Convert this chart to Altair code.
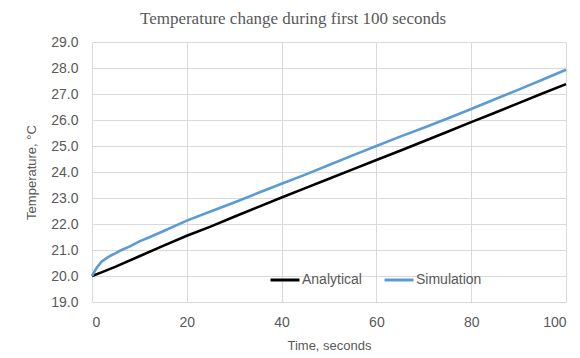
import altair as alt
import pandas as pd

t_analytical = [0, 2, 5, 10, 15, 20, 25, 30, 35, 40, 45, 50, 55, 60, 65, 70, 75, 80, 85, 90, 95, 100]
v_analytical = [20.0, 20.14, 20.36, 20.76, 21.16, 21.55, 21.9, 22.28, 22.65, 23.02, 23.38, 23.74, 24.1,
                24.46, 24.82, 25.18, 25.55, 25.92, 26.28, 26.65, 27.02, 27.38]

t_simulation = [0, 1, 2, 3, 4, 5, 6, 8, 10, 12, 15, 20, 25, 30, 35, 40, 45, 50, 55, 60, 65, 70, 75, 80,
                85, 90, 95, 100]
v_simulation = [20.0, 20.32, 20.55, 20.68, 20.79, 20.88, 20.98, 21.14, 21.33, 21.48, 21.72, 22.13, 22.48,
                22.83, 23.19, 23.55, 23.9, 24.27, 24.64, 25.0, 25.36, 25.7, 26.06, 26.42, 26.8, 27.17,
                27.55, 27.93]

series_names = ["Analytical", "Simulation"]
series_colors = ["#000000", "#5B9BD5"]
y_ticks = [19, 20, 21, 22, 23, 24, 25, 26, 27, 28, 29]
x_ticks = [0, 20, 40, 60, 80, 100]

df = pd.concat([
    pd.DataFrame({"t": t_analytical, "v": v_analytical, "series": series_names[0]}),
    pd.DataFrame({"t": t_simulation, "v": v_simulation, "series": series_names[1]}),
])

font = "Liberation Sans"
gray = "#595959"

chart = alt.Chart(df).mark_line(strokeWidth=2.6).encode(
    x=alt.X("t:Q", scale=alt.Scale(domain=[0, 100], nice=False),
            axis=alt.Axis(values=x_ticks, title="Time, seconds", grid=True, domain=False, ticks=False,
                          labelPadding=13, titlePadding=10)),
    y=alt.Y("v:Q", scale=alt.Scale(domain=[19, 29], nice=False, zero=False),
            axis=alt.Axis(values=y_ticks, format=".1f", title="Temperature, °C", grid=True, domain=False,
                          ticks=False, labelPadding=14, titlePadding=12)),
    color=alt.Color("series:N", scale=alt.Scale(domain=series_names, range=series_colors),
                    legend=alt.Legend(title=None, orient="none", legendX=177, legendY=222,
                                      direction="horizontal", symbolType="stroke", symbolSize=840,
                                      symbolStrokeWidth=3, labelOffset=1, columnPadding=16,
                                      labelFont=font, labelFontSize=14, labelColor=gray)),
    order=alt.Order("t:Q"),
).properties(
    width=474, height=260,
    title=alt.TitleParams("Temperature change during first 100 seconds", font="Liberation Serif",
                          fontSize=17, fontWeight="normal", color=gray, anchor="middle", dx=-36,
                          baseline="alphabetic", offset=19, dy=25),
    autosize=alt.AutoSizeParams(type="none"),
    padding={"left": 84, "top": 34, "right": 6, "bottom": 54},
).configure_axis(
    gridColor="#d9d9d9", gridWidth=1, labelFont=font, labelFontSize=14, labelColor=gray,
    titleFont=font, titleFontSize=13, titleColor=gray, titleFontWeight="normal",
).configure_view(stroke=None)

chart.save("out.html", embed_options={"renderer": "svg", "actions": False})
